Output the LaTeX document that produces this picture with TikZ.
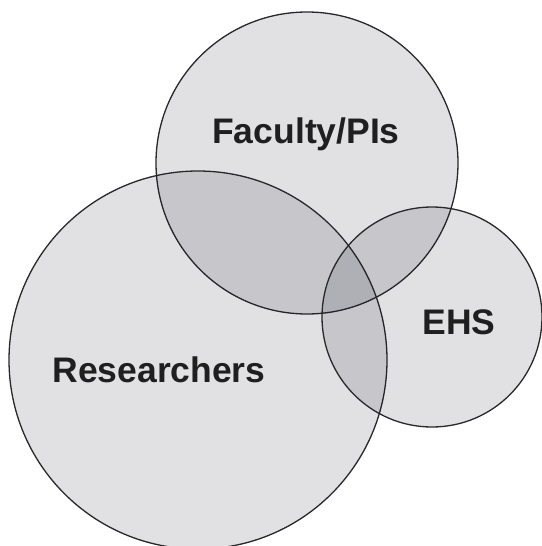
\documentclass[tikz,border=0pt]{standalone}
\usepackage{fontspec}
\setmainfont{Liberation Sans}
\usepackage{tikz}

\definecolor{setfill}{RGB}{20,22,40}
\definecolor{setline}{RGB}{40,40,42}

\begin{document}
\begin{tikzpicture}[x=1pt,y=-1pt]
\useasboundingbox (0,0) rectangle (541,546);
\tikzset{set/.style={fill=setfill, fill opacity=0.13, draw=setline, draw opacity=1, line width=1.3pt},
  setlabel/.style={font=\fontsize{35.5}{40}\selectfont\bfseries, text=black!88}}
\draw[set] (307,163) circle (151);
\draw[set] (198,360) circle (189);
\draw[set] (432,317) circle (110);
\node[setlabel] (faculty) at (306,134) {Faculty/PIs};
\node[setlabel] (researchers) at (159,370) {Researchers};
\node[setlabel] (ehs) at (459,322) {EHS};
\end{tikzpicture}
\end{document}
